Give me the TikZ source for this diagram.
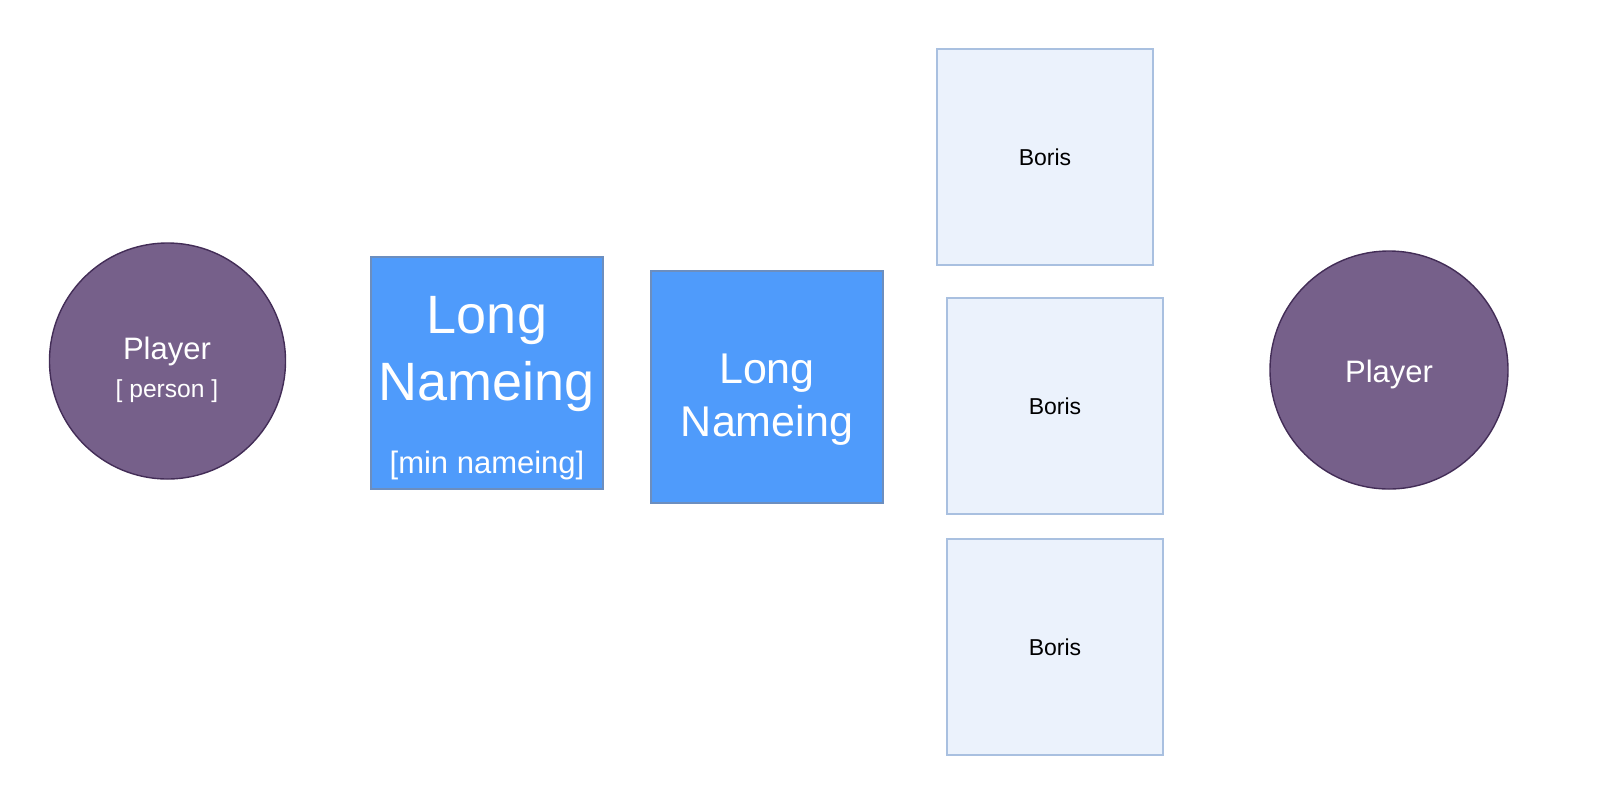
\documentclass[tikz,border=0pt]{standalone}
\usepackage{fontspec}
\setmainfont{Liberation Sans}
\definecolor{purplefill}{HTML}{76608A}
\definecolor{purpleline}{HTML}{432D57}
\definecolor{bluefill}{HTML}{4F9BFB}
\definecolor{blueline}{HTML}{6C8EBF}
\definecolor{lightfill}{HTML}{EBF2FC}
\definecolor{lightline}{HTML}{A9C0E0}
\tikzset{
  player/.style={circle, fill=purplefill, draw=purpleline, line width=0.7pt, inner sep=0pt},
  bluebox/.style={rectangle, fill=bluefill, draw=blueline, line width=0.7pt, inner sep=0pt, minimum width=116pt, minimum height=116pt},
  borisbox/.style={rectangle, fill=lightfill, draw=lightline, line width=0.7pt, inner sep=0pt, minimum width=108pt, minimum height=108pt},
  wtext/.style={text=white, inner sep=0pt, anchor=base},
  btext/.style={text=black, inner sep=0pt, anchor=base},
}
\begin{document}
\begin{tikzpicture}[x=0.5pt, y=-0.5pt]
\useasboundingbox (0,0) rectangle (1600,800);
% left player
\node[player, minimum size=118pt] (p1) at (167.5,361) {};
\node[wtext, font=\fontsize{15.5}{18}\selectfont] (p1a) at (167,359) {Player};
\node[wtext, font=\fontsize{12.3}{14}\selectfont] (p1b) at (167,397) {[ person ]};
% blue box 1
\node[bluebox] (b1) at (487,373) {};
\node[wtext, font=\fontsize{27}{32}\selectfont] (b1a) at (487,333) {Long};
\node[wtext, font=\fontsize{27}{32}\selectfont] (b1b) at (487,400) {Nameing};
\node[wtext, font=\fontsize{15.5}{18}\selectfont] (b1c) at (487,473) {[min nameing]};
% blue box 2
\node[bluebox] (b2) at (767,387) {};
\node[wtext, font=\fontsize{21.5}{26}\selectfont] (b2a) at (767,383) {Long};
\node[wtext, font=\fontsize{21.5}{26}\selectfont] (b2b) at (767,436) {Nameing};
% Boris boxes
\node[borisbox] (r1) at (1045,157) {};
\node[btext, font=\fontsize{11.5}{14}\selectfont] (r1t) at (1045,165) {Boris};
\node[borisbox] (r2) at (1055,406) {};
\node[btext, font=\fontsize{11.5}{14}\selectfont] (r2t) at (1055,414) {Boris};
\node[borisbox] (r3) at (1055,647) {};
\node[btext, font=\fontsize{11.5}{14}\selectfont] (r3t) at (1055,655) {Boris};
% right player
\node[player, minimum size=119pt] (p2) at (1389,370) {};
\node[wtext, font=\fontsize{15.5}{18}\selectfont] (p2a) at (1389,382) {Player};
\end{tikzpicture}
\end{document}
